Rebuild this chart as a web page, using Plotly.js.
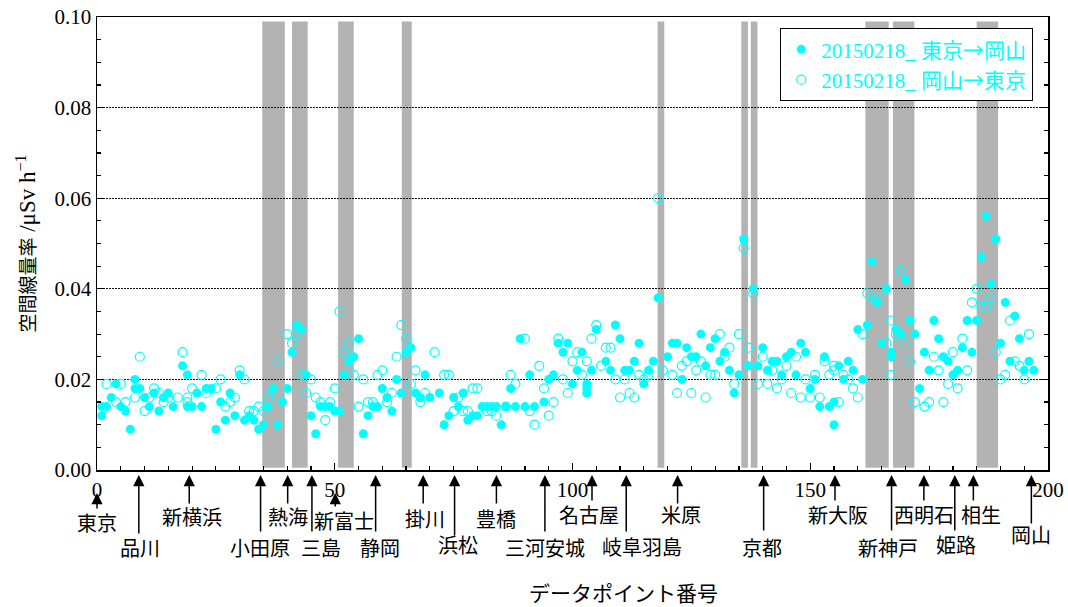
<!DOCTYPE html>
<html>
<head>
<meta charset="utf-8">
<script src="https://cdn.plot.ly/plotly-3.0.1.min.js"></script>
<style>html,body{margin:0;padding:0;background:#fff;}#chart{width:1068px;height:607px;}</style>
</head>
<body>
<div id="chart"></div>
<script>
// ---- data: data point number 0..199 ----
const ARROW = '<span style="font-family:\'Noto Sans CJK JP\'">→</span>';
const filledName = '20150218_ 東京' + ARROW + '岡山';
const openName = '20150218_ 岡山' + ARROW + '東京';

const filledY = [
  null, 0.014, 0.014, 0.016, 0.019, 0.014, 0.013, 0.009, 0.020, 0.018,
  0.016, 0.014, 0.017, 0.013, 0.016, 0.017, 0.014, null, 0.023, 0.021,
  0.014, 0.017, 0.014, 0.018, 0.018, 0.009, 0.015, 0.011, 0.017, 0.012,
  0.021, 0.011, 0.012, 0.011, 0.009, 0.010, 0.014, 0.018, 0.010, 0.015,
  0.018, 0.026, 0.032, 0.031, 0.021, 0.012, 0.008, 0.014, 0.014, 0.014,
  0.013, 0.013, 0.021, 0.024, 0.025, 0.029, 0.008, 0.012, 0.014, 0.014,
  0.018, 0.016, 0.013, 0.020, 0.017, 0.026, 0.027, 0.017, 0.016, 0.021,
  0.016, null, 0.017, 0.010, 0.012, 0.016, 0.014, 0.017, 0.011, 0.012,
  0.012, 0.014, 0.014, 0.014, 0.014, 0.010, 0.014, 0.018, 0.014, 0.029,
  0.014, 0.021, 0.014, null, 0.015, 0.020, 0.021, 0.028, 0.026, 0.028,
  0.019, 0.022, 0.026, 0.019, 0.022, 0.031, null, 0.024, 0.022, 0.032,
  0.029, 0.022, 0.022, 0.024, 0.028, 0.019, 0.022, 0.024, 0.038, null,
  0.025, 0.028, 0.028, 0.020, 0.027, 0.025, 0.025, 0.030, 0.023, 0.027,
  0.029, 0.024, 0.026, 0.022, 0.017, 0.021, 0.051, 0.023, 0.040, 0.023,
  0.027, 0.022, 0.024, 0.024, 0.021, 0.025, 0.026, 0.021, 0.028, 0.026,
  0.018, 0.020, 0.014, 0.025, 0.014, 0.015, 0.023, 0.020, 0.024, 0.022,
  0.031, 0.020, 0.032, 0.046, 0.037, 0.028, 0.040, 0.026, 0.031, 0.030,
  0.042, 0.033, 0.030, 0.018, 0.026, 0.022, 0.033, 0.029, 0.025, 0.024,
  0.021, 0.022, 0.027, 0.033, 0.026, 0.033, 0.047, 0.056, 0.041, 0.051,
  0.028, 0.037, 0.024, 0.034, 0.029, 0.022, 0.024, 0.022, null, null
];
// second readings at the same data point number
const filledExtraX = [1, 8, 19, 103, 103, 155, 167];
const filledExtraY = [0.012, 0.018, 0.014, 0.018, 0.017, 0.010, 0.025];

const openY = [
  null, null, 0.019, null, 0.015, 0.019, 0.015, null, 0.016, 0.025,
  0.013, 0.016, 0.018, 0.017, 0.015, 0.016, null, 0.016, 0.026, 0.016,
  0.018, null, 0.021, 0.017, null, 0.018, 0.020, 0.014, 0.015, 0.016,
  0.022, 0.020, 0.013, 0.013, 0.014, 0.013, 0.016, 0.017, 0.024, null,
  0.030, 0.028, 0.030, 0.021, 0.017, 0.020, 0.016, 0.015, 0.011, 0.015,
  0.018, 0.035, 0.026, 0.028, 0.021, 0.014, 0.020, 0.015, 0.015, 0.021,
  0.022, 0.015, 0.017, 0.025, 0.032, 0.029, 0.019, 0.022, 0.015, 0.017,
  null, 0.026, null, 0.021, 0.021, 0.013, 0.016, 0.013, 0.013, 0.018,
  0.018, null, 0.013, 0.013, 0.012, null, 0.014, 0.021, 0.019, null,
  0.029, 0.013, 0.010, 0.023, 0.018, 0.012, 0.015, 0.029, 0.020, 0.017,
  0.024, 0.026, 0.021, 0.024, 0.029, 0.032, 0.023, 0.027, 0.027, 0.020,
  0.016, 0.020, 0.017, 0.016, 0.021, 0.020, 0.021, null, 0.060, 0.022,
  null, 0.021, 0.017, 0.023, 0.024, 0.017, 0.022, 0.024, 0.016, 0.021,
  0.021, 0.030, 0.025, 0.027, 0.019, 0.030, 0.049, 0.027, 0.039, 0.019,
  0.025, 0.019, 0.022, 0.018, 0.020, 0.023, 0.017, 0.025, 0.016, 0.020,
  0.016, 0.021, 0.016, 0.024, 0.021, 0.023, 0.015, 0.021, 0.020, 0.018,
  0.016, 0.030, 0.039, 0.038, 0.038, null, 0.028, 0.033, 0.030, 0.044,
  0.028, 0.024, 0.015, null, 0.014, 0.015, 0.025, 0.022, 0.015, 0.019,
  0.026, 0.018, 0.029, 0.022, 0.037, 0.040, 0.036, 0.036, 0.038, 0.026,
  0.020, 0.021, 0.033, 0.024, 0.023, 0.020, 0.030, null, null, null
];
const openExtraX = [19, 155, 167];
const openExtraY = [0.015, 0.022, 0.021];

// gray bands (tunnel sections), in data point numbers
const bandStart = [34.75, 41.0, 50.7, 64.1, 117.9, 135.5, 137.5, 161.6, 167.4, 185.0];
const bandEnd   = [39.5, 44.3, 54.0, 66.2, 119.3, 136.9, 138.9, 166.5, 171.9, 189.5];

// stations
const stationNames = ['東京','品川','新横浜','小田原','熱海','三島','新富士','静岡','掛川','浜松','豊橋',
  '三河安城','名古屋','岐阜羽島','米原','京都','新大阪','新神戸','西明石','姫路','相生','岡山'];
const stationX = [0, 8.8, 19.4, 34.4, 40.1, 45.2, 50.1, 58.6, 68.6, 75.2, 84.0,
  94.2, 104.1, 111.3, 122.1, 140.2, 155.2, 167.1, 173.9, 180.4, 184.3, 196.5];

const xTickVals = [0, 50, 100, 150, 200];
const yTickVals = [0, 0.02, 0.04, 0.06, 0.08, 0.10];

// ---- layout styling (pixels) ----
const arrowTip   = [493,475,475,475,475,475,493,475,475,475,475,475,475,475,475,475,475,475,475,475,475,475];
const arrowTail  = [510,535,505,533,505,533,508,533,505,537,505,533,502,533,505,532,502,532,502,532,502,525];
const labelY     = [524,549,518,549,518,549,522,549,520,546,520,549,516,548,516,549,516,549,516,546,516,536];
const labelShift = [0,1,3,-1,0,9,9,4,2,3,0,0,-3,16,3,-2,3,-4,0,1,8,0];

const M = {l: 97, r: 20, t: 17, b: 137};
const H = 607 - M.t - M.b;
const plotBottom = 607 - M.b;
const pyToPaper = py => (plotBottom - py) / H;

const FONT = '"Liberation Serif", "Noto Sans CJK JP", serif';
const CYAN = '#00ffff';

const idx = filledY.map((_, i) => i);

const traces = [
  {
    type: 'scatter', mode: 'markers', name: filledName,
    x: idx.concat(filledExtraX), y: filledY.concat(filledExtraY),
    marker: {symbol: 'circle', size: 9, color: CYAN},
    cliponaxis: false
  },
  {
    type: 'scatter', mode: 'markers', name: openName,
    x: idx.concat(openExtraX), y: openY.concat(openExtraY),
    marker: {symbol: 'circle-open', size: 9, color: CYAN, line: {width: 1.2, color: CYAN}},
    cliponaxis: false
  }
];

const shapes = bandStart.map((s, i) => ({
  type: 'rect', xref: 'x', yref: 'y', x0: s, x1: bandEnd[i], y0: 0.0005, y1: 0.099,
  fillcolor: '#b3b3b3', line: {width: 0}, layer: 'below'
}));

const annotations = [];
stationNames.forEach((name, i) => {
  annotations.push({
    xref: 'x', yref: 'paper', x: stationX[i], y: pyToPaper(arrowTip[i]),
    text: '', showarrow: true, ax: 0, ay: arrowTail[i] - arrowTip[i],
    arrowhead: 2, arrowsize: 1.5, arrowwidth: 1.5, arrowcolor: '#000',
    standoff: 0, startstandoff: 0
  });
  annotations.push({
    xref: 'x', yref: 'paper', x: stationX[i], xshift: labelShift[i],
    y: pyToPaper(labelY[i]), yanchor: 'middle', xanchor: 'center',
    text: name, showarrow: false, font: {family: FONT, size: 20, color: '#000'}
  });
});
annotations.push({
  xref: 'paper', yref: 'paper', x: (623 - M.l) / (1068 - M.l - M.r), y: pyToPaper(594),
  xanchor: 'center', yanchor: 'middle', showarrow: false,
  text: 'データポイント番号', font: {family: FONT, size: 21, color: '#000'}
});

const layout = {
  width: 1068, height: 607,
  margin: M,
  paper_bgcolor: '#fff', plot_bgcolor: '#fff',
  showlegend: true,
  font: {family: FONT, size: 21, color: '#000'},
  xaxis: {
    range: [0, 200], tickvals: xTickVals, ticktext: xTickVals.map(String),
    ticks: 'inside', ticklen: 7, tickwidth: 1.3, tickcolor: '#000',
    minor: {dtick: 5, tick0: 0, ticks: 'inside', ticklen: 4, tickwidth: 1.2, tickcolor: '#000'},
    showline: true, linecolor: '#000', linewidth: 1.5, mirror: true,
    showgrid: false, zeroline: false,
    tickfont: {family: FONT, size: 21, color: '#000'}
  },
  yaxis: {
    range: [0, 0.10], tickvals: yTickVals, tickformat: '.2f',
    ticks: 'inside', ticklen: 7, tickwidth: 1.3, tickcolor: '#000',
    minor: {dtick: 0.005, tick0: 0, ticks: 'inside', ticklen: 4, tickwidth: 1.2, tickcolor: '#000', showgrid: false},
    showline: true, linecolor: '#000', linewidth: 1.5, mirror: 'ticks',
    showgrid: true, gridcolor: '#111', gridwidth: 1, griddash: '2px,1px',
    zeroline: false,
    tickfont: {family: FONT, size: 21, color: '#000'},
    title: {
      text: '<span style="font-size:19px">空間線量率</span> /μSv h<sup>−1</sup>',
      font: {family: FONT, size: 23, color: '#000'}, standoff: 12
    }
  },
  legend: {
    x: (1033 - M.l) / (1068 - M.l - M.r), xanchor: 'right',
    y: pyToPaper(28), yanchor: 'top',
    bgcolor: '#fff', bordercolor: '#000', borderwidth: 1.2,
    font: {family: FONT, size: 21, color: CYAN},
    tracegroupgap: 0, itemwidth: 30
  },
  shapes: shapes,
  annotations: annotations
};

Plotly.newPlot('chart', traces, layout, {staticPlot: true, displayModeBar: false});
</script>
</body>
</html>
